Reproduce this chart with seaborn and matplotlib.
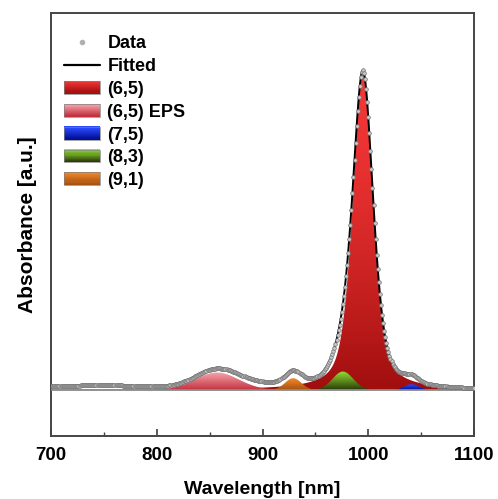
import numpy as np
import pandas as pd
import seaborn as sns
import matplotlib
matplotlib.use("Agg")
import matplotlib.pyplot as plt
from matplotlib.colors import to_rgb
from matplotlib.patches import Rectangle
from matplotlib.lines import Line2D
from matplotlib.legend_handler import HandlerBase

# ---- data ----
comp_names = ["(6,5)", "(6,5) EPS", "(7,5)", "(8,3)", "(9,1)"]
comp_centers = [995.0, 857.0, 1041.0, 976.0, 929.0]      # nm
comp_heights = [1.0, 0.055, 0.018, 0.058, 0.037]         # a.u.
comp_fwhm = [23.0, 48.0, 16.0, 23.0, 18.0]               # nm
comp_lorentz_frac = [0.5, 0.0, 0.0, 0.0, 0.0]
comp_top_colors = ["#f43636", "#f6a6ac", "#2d4cff", "#94e234", "#f28a2c"]
comp_bottom_colors = ["#a00e0e", "#c23240", "#00109a", "#2a3a08", "#a8500e"]

bg_centers = [750.0, 900.0]
bg_heights = [0.006, 0.009]
bg_fwhm = [70.0, 80.0]
bg_offset_start = 0.009   # at 700 nm
bg_offset_end = 0.0       # at 1100 nm

x_ticks = [700, 800, 900, 1000, 1100]

wl = np.arange(700, 1100.5, 0.5)
wl_data = np.arange(700, 1101, 1.0)


def pvoigt(x, c, h, w, eta):
    g = np.exp(-4 * np.log(2) * ((x - c) / w) ** 2)
    l = 1.0 / (1.0 + (2 * (x - c) / w) ** 2)
    return h * (eta * l + (1 - eta) * g)


def background(x):
    b = bg_offset_start + (bg_offset_end - bg_offset_start) * (x - 700) / 400.0
    for c, h, w in zip(bg_centers, bg_heights, bg_fwhm):
        b = b + pvoigt(x, c, h, w, 0.0)
    return b


def model(x):
    y = background(x)
    for c, h, w, e in zip(comp_centers, comp_heights, comp_fwhm, comp_lorentz_frac):
        y = y + pvoigt(x, c, h, w, e)
    return y


fit_df = pd.DataFrame({"wl": wl, "abs": model(wl)})
data_df = pd.DataFrame({"wl": wl_data, "abs": model(wl_data)})

# ---- figure ----
sns.set_theme(style="white")
plt.rcParams["font.family"] = ["Liberation Sans", "DejaVu Sans"]
plt.rcParams["font.weight"] = "bold"
plt.rcParams["text.color"] = "black"
plt.rcParams["axes.labelcolor"] = "black"
plt.rcParams["xtick.color"] = "black"

fig = plt.figure(figsize=(4.98, 4.99), dpi=100)
ax = fig.add_axes([51 / 498, 63 / 499, 423 / 498, 423 / 499])


def grad_colors(top, bot, n, gamma=1.0):
    t = (np.linspace(0, 1, n) ** gamma)[:, None]
    return np.array(to_rgb(top))[None, :] * (1 - t) + np.array(to_rgb(bot))[None, :] * t


# gradient filled components
for i, (c, h, w, e) in enumerate(zip(comp_centers, comp_heights, comp_fwhm, comp_lorentz_frac)):
    yv = pvoigt(wl, c, h, w, e)
    poly = ax.fill_between(wl, 0, yv, facecolor="none", edgecolor="none", zorder=2 + i)
    cols = grad_colors(comp_top_colors[i], comp_bottom_colors[i], 256,
                       gamma=1.6 if i == 0 else 1.0)
    img = ax.imshow(cols[:, None, :], extent=[700, 1100, 0, h], aspect="auto",
                    origin="upper", zorder=2 + i, interpolation="bilinear")
    path = poly.get_paths()[0]
    img.set_clip_path(path, ax.transData)

ax.axhline(0, color="#8a8a8a", lw=1.3, zorder=8)

sns.lineplot(data=fit_df, x="wl", y="abs", ax=ax, color="black", lw=1.4, zorder=9,
             legend=False)
sns.scatterplot(data=data_df, x="wl", y="abs", ax=ax, s=7, color="#c8c8c8",
                edgecolor="#707070", linewidth=0.5, zorder=10, legend=False)

ax.set_xlim(700, 1100)
ax.set_ylim(-0.146, 1.193)
ax.set_xticks(x_ticks)
ax.set_xticklabels([str(t) for t in x_ticks], fontsize=13.5, fontweight="bold")
ax.xaxis.set_minor_locator(matplotlib.ticker.MultipleLocator(50))
ax.set_yticks([])
ax.tick_params(axis="x", which="major", direction="in", length=5, width=1.2,
               color="#404040", bottom=True, pad=8)
ax.tick_params(axis="x", which="minor", direction="in", length=3, width=1.0,
               color="#404040", bottom=True)
for s in ax.spines.values():
    s.set_color("#454545")
    s.set_linewidth(1.4)

ax.set_xlabel("Wavelength [nm]", fontsize=14, fontweight="bold", labelpad=12)
ax.set_ylabel("Absorbance [a.u.]", fontsize=15, fontweight="bold", labelpad=10)


class GradHandler(HandlerBase):
    def __init__(self, top, bot):
        super().__init__()
        self.top, self.bot = top, bot

    def create_artists(self, legend, orig_handle, xdescent, ydescent, width, height,
                       fontsize, trans):
        n = 12
        cols = grad_colors(self.top, self.bot, n)
        x0, y0 = -xdescent, -ydescent
        arts = []
        for k in range(n):
            r = Rectangle((x0, y0 + height * (1 - (k + 1) / n)), width, height / n + 0.3,
                          facecolor=cols[k], edgecolor="none", transform=trans)
            arts.append(r)
        arts.append(Rectangle((x0, y0), width, height, facecolor="none",
                              edgecolor="#808080", lw=0.5, transform=trans))
        return arts


data_h = Line2D([], [], marker="o", ls="none", markersize=3, color="#b0b0b0",
                markeredgecolor="#b0b0b0")
fit_h = Line2D([], [], color="black", lw=1.6)
comp_h = [Rectangle((0, 0), 1, 1) for _ in comp_names]
hmap = {h: GradHandler(comp_top_colors[i], comp_bottom_colors[i]) for i, h in enumerate(comp_h)}
leg = ax.legend([data_h, fit_h] + comp_h, ["Data", "Fitted"] + comp_names,
                handler_map=hmap, loc="upper left", bbox_to_anchor=(0.031, 0.947),
                frameon=False, borderpad=0, borderaxespad=0, handlelength=2.0,
                handleheight=0.7, handletextpad=0.4, labelspacing=0.32,
                prop={"size": 13, "weight": "bold"})

fig.savefig("out.png", dpi=100)
